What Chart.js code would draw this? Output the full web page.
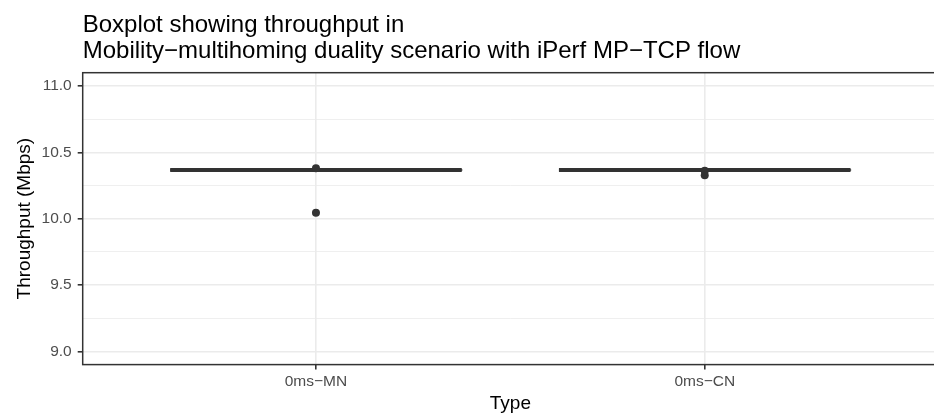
<!DOCTYPE html>
<html>
<head>
<meta charset="utf-8">
<script src="https://cdn.jsdelivr.net/npm/chart.js@4.4.1/dist/chart.umd.min.js"></script>
<style>
  html, body { margin: 0; padding: 0; background: #fff; overflow: hidden; }
  #wrap { width: 942px; height: 415px; }
</style>
</head>
<body>
<div id="wrap"><canvas id="boxplot"></canvas></div>
<script>
// throughput boxplot, one box per node type
var titleLines = [
  "Boxplot showing throughput in",
  "Mobility\u2212multihoming duality scenario with iPerf MP\u2212TCP flow"
];
var categories = ["0ms\u2212MN", "0ms\u2212CN"];
var lowerWhisker = [10.367, 10.367];
var q1 = [10.367, 10.367];
var median = [10.367, 10.367];
var q3 = [10.367, 10.367];
var upperWhisker = [10.367, 10.367];
var outliers = [[10.38, 10.045], [10.361, 10.327]];
var yMajor = [9.0, 9.5, 10.0, 10.5, 11.0];
var yMinor = [9.25, 9.75, 10.25, 10.75];

var INK = '#333333';
var FONT = "'Liberation Sans', Arial, Helvetica, sans-serif";
var boxHalf = 0.375;

function seg(points, width) {
  return {
    data: points,
    showLine: true,
    borderColor: INK,
    borderWidth: width,
    borderJoinStyle: 'round',
    borderCapStyle: 'butt',
    pointRadius: 0,
    pointHoverRadius: 0,
    fill: false,
    order: 1
  };
}

var datasets = [];
var outlierPts = [];
categories.forEach(function (c, i) {
  var x = i + 1;
  // box outline (q1..q3), whiskers and median
  datasets.push(seg([
    {x: x - boxHalf, y: q1[i]}, {x: x + boxHalf, y: q1[i]},
    {x: x + boxHalf, y: q3[i]}, {x: x - boxHalf, y: q3[i]},
    {x: x - boxHalf, y: q1[i]}
  ], 1.6));
  datasets.push(seg([{x: x, y: q3[i]}, {x: x, y: upperWhisker[i]}], 1.6));
  datasets.push(seg([{x: x, y: q1[i]}, {x: x, y: lowerWhisker[i]}], 1.6));
  datasets.push(seg([{x: x - boxHalf, y: median[i]}, {x: x + boxHalf, y: median[i]}], 4));
  outliers[i].forEach(function (v) { outlierPts.push({x: x, y: v}); });
});
datasets.push({
  data: outlierPts,
  pointRadius: 4,
  pointHoverRadius: 4,
  pointBackgroundColor: INK,
  pointBorderWidth: 0,
  showLine: false,
  order: 0
});

function isMajor(v) { return yMajor.indexOf(v) >= 0; }

// panel border + left aligned two line title
var panelDecor = {
  id: 'panelDecor',
  afterDraw: function (chart) {
    var ctx = chart.ctx, a = chart.chartArea;
    ctx.save();
    ctx.strokeStyle = INK;
    ctx.lineWidth = 1.5;
    ctx.strokeRect(a.left, a.top, a.right - a.left, a.bottom - a.top);
    ctx.fillStyle = '#000';
    ctx.font = '24px ' + FONT;
    ctx.textBaseline = 'alphabetic';
    ctx.textAlign = 'left';
    titleLines.forEach(function (t, k) {
      ctx.fillText(t, a.left, 32 + k * 26);
    });
    ctx.restore();
  }
};

new Chart(document.getElementById('boxplot'), {
  type: 'scatter',
  data: {datasets: datasets},
  plugins: [panelDecor],
  options: {
    responsive: true,
    maintainAspectRatio: false,
    animation: false,
    layout: {padding: {top: 72.7, right: 1.3, left: 0, bottom: 0}},
    plugins: {legend: {display: false}, tooltip: {enabled: false}},
    scales: {
      x: {
        type: 'linear',
        min: 0.4,
        max: 2.6,
        afterBuildTicks: function (scale) {
          scale.ticks = categories.map(function (c, i) { return {value: i + 1}; });
        },
        afterFit: function (scale) { scale.height = 50.4; },
        border: {display: false},
        grid: {
          color: '#EBEBEB',
          lineWidth: 1.6,
          tickColor: INK,
          tickWidth: 1.6,
          tickLength: 5
        },
        ticks: {
          autoSkip: false,
          maxRotation: 0,
          padding: 3,
          color: '#4D4D4D',
          font: {family: FONT, size: 15.5},
          callback: function (v, i) { return categories[i]; }
        },
        title: {
          display: true,
          text: 'Type',
          color: '#000',
          font: {family: FONT, size: 19},
          padding: {top: 0, bottom: 0}
        }
      },
      y: {
        type: 'linear',
        min: 8.9,
        max: 11.1,
        afterBuildTicks: function (scale) {
          scale.ticks = yMajor.concat(yMinor)
            .sort(function (a, b) { return a - b; })
            .map(function (v) { return {value: v}; });
        },
        afterFit: function (scale) { scale.width = 82.7; },
        border: {display: false},
        grid: {
          color: '#EBEBEB',
          lineWidth: function (c) { return c.tick && isMajor(c.tick.value) ? 1.6 : 0.8; },
          tickColor: function (c) { return c.tick && isMajor(c.tick.value) ? INK : 'rgba(0,0,0,0)'; },
          tickWidth: 1.6,
          tickLength: 5
        },
        ticks: {
          autoSkip: false,
          padding: 6,
          color: '#4D4D4D',
          font: {family: FONT, size: 15.5},
          callback: function (v) { return isMajor(v) ? v.toFixed(1) : ''; }
        },
        title: {
          display: true,
          text: 'Throughput (Mbps)',
          color: '#000',
          font: {family: FONT, size: 19},
          padding: {top: 13, bottom: 0}
        }
      }
    }
  }
});
</script>
</body>
</html>
